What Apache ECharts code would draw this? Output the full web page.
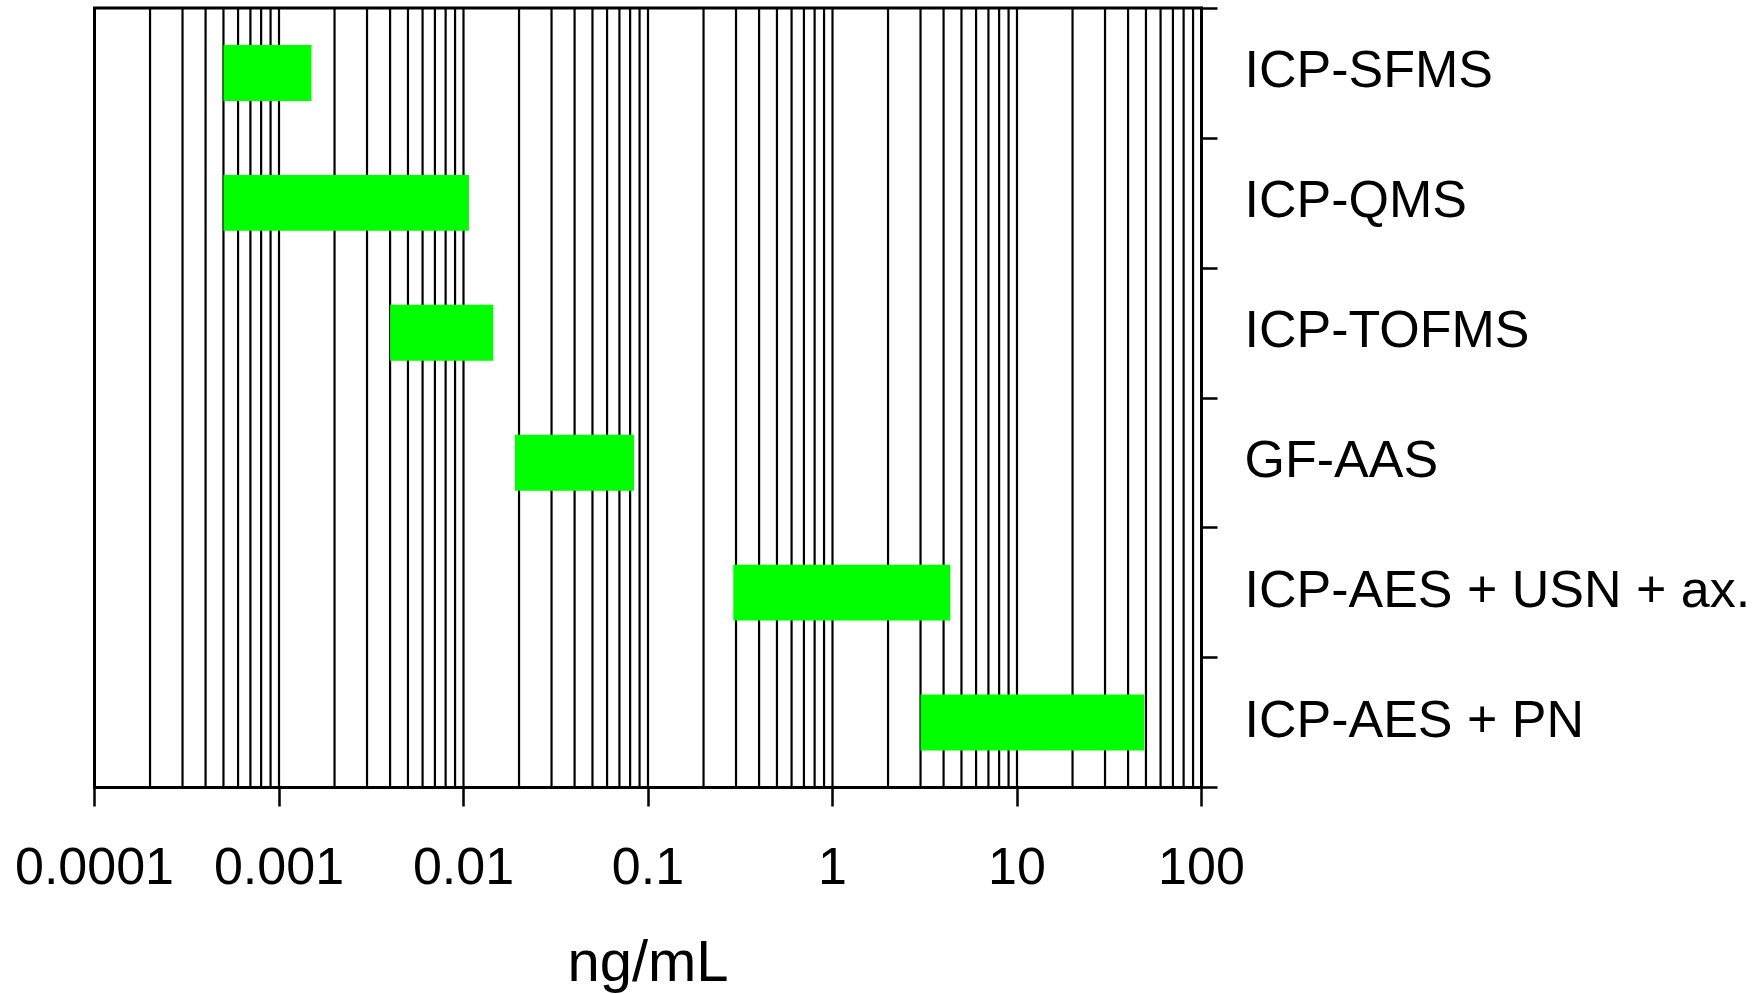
<!DOCTYPE html>
<html>
<head>
    <meta charset="utf-8">
    <title>Detection limits</title>
    <script src="https://cdn.jsdelivr.net/npm/echarts@6/dist/echarts.min.js"></script>
</head>
<body style="margin:0">
    <div id="main" style="width:1764px;height:994px;"></div>
    <script>
        var methods = ['ICP-SFMS', 'ICP-QMS', 'ICP-TOFMS', 'GF-AAS', 'ICP-AES + USN + ax.', 'ICP-AES + PN'];
        var lowLimits = [0.0005, 0.0005, 0.004, 0.019, 0.29, 3.0];
        var highLimits = [0.0015, 0.0107, 0.0145, 0.084, 4.35, 49];
        var tickLabels = ['0.0001', '0.001', '0.01', '0.1', '1', '10', '100'];

        // grid lines at 1..9 of each decade
        var gridValues = [];
        for (var e = -4; e < 2; e++) {
            for (var m = 1; m < 10; m++) {
                gridValues.push([m * Math.pow(10, e)]);
            }
        }

        var font = 'Liberation Sans, Arial, sans-serif';
        var myChart = echarts.init(document.getElementById('main'));

        var option = {
            animation: false,
            backgroundColor: '#fff',
            grid: {
                left: 94.5, right: 562.5, top: 8, bottom: 206.5,
                containLabel: false,
                outerBoundsMode: 'none',
                show: true, borderColor: '#000', borderWidth: 3
            },
            xAxis: {
                type: 'log',
                logBase: 10,
                min: 0.0001,
                max: 100,
                splitNumber: 6,
                name: 'ng/mL',
                nameLocation: 'middle',
                nameGap: 148,
                nameTextStyle: { fontFamily: font, fontSize: 58, color: '#000' },
                axisLine: { show: true, lineStyle: { color: '#000', width: 3 } },
                axisTick: { show: true, inside: false, length: 19, lineStyle: { color: '#000', width: 2.5 } },
                axisLabel: {
                    margin: 56,
                    fontFamily: font, fontSize: 52, color: '#000',
                    formatter: function (v) {
                        return tickLabels[Math.round(Math.log10(v)) + 4];
                    }
                },
                splitLine: { show: false }
            },
            yAxis: {
                type: 'category',
                data: methods,
                inverse: true,
                position: 'right',
                axisLine: { show: true, lineStyle: { color: '#000', width: 3 } },
                axisTick: { show: true, inside: false, alignWithLabel: false, length: 16, lineStyle: { color: '#000', width: 2.5 } },
                axisLabel: {
                    margin: 43,
                    fontFamily: font, fontSize: 52, color: '#000'
                },
                splitLine: { show: false }
            },
            series: [{
                // vertical grid lines, placed through the log scale
                type: 'custom',
                z: 1,
                silent: true,
                encode: { x: 0 },
                renderItem: function (params, api) {
                    var cs = params.coordSys;
                    var x = api.coord([api.value(0), 0])[0];
                    return {
                        type: 'line',
                        shape: { x1: x, y1: cs.y, x2: x, y2: cs.y + cs.height },
                        style: { stroke: '#000', lineWidth: 2.2 }
                    };
                },
                data: gridValues
            }, {
                type: 'custom',
                z: 5,
                renderItem: function (params, api) {
                    var start = api.coord([api.value(1), api.value(0)]);
                    var end = api.coord([api.value(2), api.value(0)]);
                    var h = api.size([0, 1])[1] * 0.43;
                    return {
                        type: 'rect',
                        shape: { x: start[0], y: start[1] - h / 2, width: end[0] - start[0], height: h },
                        style: { fill: '#00ff00' }
                    };
                },
                encode: { x: [1, 2], y: 0 },
                data: methods.map(function (m, i) {
                    return [i, lowLimits[i], highLimits[i]];
                })
            }]
        };

        myChart.setOption(option);
    </script>
</body>
</html>
